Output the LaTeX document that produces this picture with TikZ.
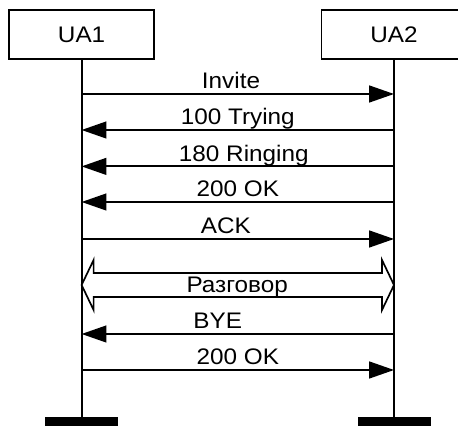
\documentclass[tikz,border=0pt]{standalone}
\usepackage{fontspec}
\setmainfont{Liberation Sans}[FakeStretch=1.08]
\usetikzlibrary{arrows.meta}

\begin{document}
\begin{tikzpicture}[
    font=\fontsize{16}{19}\selectfont,
    ente/.style={draw, line width=1.2pt, minimum width=3.625cm, minimum height=1.225cm},
    fine/.style={fill=black, minimum width=1.825cm, minimum height=0.3cm, inner sep=0pt},
    vita/.style={line width=1.4pt},
    msg/.style={line width=1.3pt, -{Triangle[length=0.62cm, width=0.42cm]}},
    lbl/.style={anchor=base, yshift=0.125cm}
  ]
  \useasboundingbox (0,0) rectangle (11.45,10.65);

  % Entita' e linee di vita
  \node[ente] (ua1) at (2.04,9.79) {UA1};
  \node[ente] (ua2) at (9.85,9.79) {UA2};
  \node[fine] (f1) at (2.04,0.08) {};
  \node[fine] (f2) at (9.85,0.08) {};
  \draw[vita] (ua1) -- (f1);
  \draw[vita] (ua2) -- (f2);

  % Punti dei messaggi
  \foreach \n/\y in {1/8.3, 2/7.4, 3/6.49, 4/5.6, 5/4.675, 6/3.525, 7/2.3, 8/1.4} {
    \coordinate (a\n) at (ua1 |- 0,\y);
    \coordinate (b\n) at (ua2 |- 0,\y);
  }

  % Messaggi
  \draw[msg] (a1) -- (b1) node[lbl, midway, xshift=-0.17cm] {Invite};
  \draw[msg] (b2) -- (a2) node[lbl, midway] {100 Trying};
  \draw[msg] (b3) -- (a3) node[lbl, midway, xshift=0.15cm] {180 Ringing};
  \draw[msg] (b4) -- (a4) node[lbl, midway] {200 OK};
  \draw[msg] (a5) -- (b5) node[lbl, midway, xshift=-0.3cm] {ACK};

  % Freccia doppia della conversazione
  \filldraw[line width=1.2pt, fill=white, line join=miter]
    (a6) -- ++(0.3,0.625) -- ++(0,-0.325) -- ++(7.21,0) -- ++(0,0.325)
    -- (b6) -- ++(-0.3,-0.625) -- ++(0,0.325) -- ++(-7.21,0) -- ++(0,-0.325) -- cycle;
  \node[anchor=base] (talk) at (5.93,3.325) {Разговор};

  \draw[msg] (b7) -- (a7) node[lbl, midway, xshift=-0.5cm] {BYE};
  \draw[msg] (a8) -- (b8) node[lbl, midway] {200 OK};
\end{tikzpicture}
\end{document}
